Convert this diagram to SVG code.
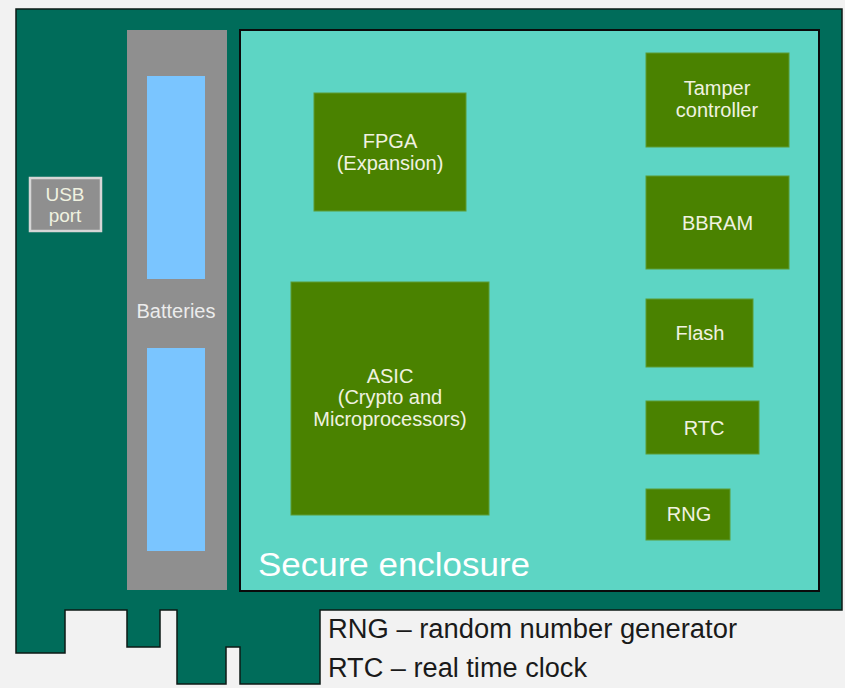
<svg xmlns="http://www.w3.org/2000/svg" width="845" height="688" viewBox="0 0 845 688">
  <style>
    .chip { fill: #4a8200; stroke: #5c9c34; stroke-width: 1; }
    .chipText { font-family: "Liberation Sans", Arial, sans-serif; font-size: 20px; fill: #f0f2e0; text-anchor: middle; }
    .gray { fill: #8f8f8f; }
    .cell { fill: #7ac5ff; }
    .legend { font-family: "Liberation Sans", Arial, sans-serif; font-size: 27px; fill: #1a1a1a; }
  </style>
  <rect x="0" y="0" width="845" height="688" fill="#f2f2f2"/>

  <g id="board">
    <path d="M16,9 H842 V610 H320 V684 H240 V647 H226 V684 H177 V610 H160 V647 H127 V610 H65 V653 H16 Z" fill="#006c5a" stroke="#0d1a16" stroke-width="1.5" stroke-linejoin="miter"/>
  </g>

  <g id="usb-port">
    <rect x="30" y="178" width="71" height="53" class="gray" stroke="#d6d6d6" stroke-width="2.5"/>
    <text class="chipText" x="65" y="201" font-size="19" style="font-size:19px" fill="#e6e6e6">USB</text>
    <text class="chipText" x="65" y="222" style="font-size:19px" fill="#e6e6e6">port</text>
  </g>

  <g id="batteries">
    <rect x="127" y="30" width="100" height="560" class="gray"/>
    <rect x="147" y="76" width="58" height="203" class="cell"/>
    <rect x="147" y="348" width="58" height="203" class="cell"/>
    <text class="chipText" x="176" y="318" fill="#ececec" style="fill:#ececec">Batteries</text>
  </g>

  <g id="secure-enclosure">
    <rect x="240" y="30" width="579" height="561" fill="#5dd5c4" stroke="#0a0a0a" stroke-width="2"/>
    <text x="258" y="576" font-family="Liberation Sans, Arial, sans-serif" font-size="34" fill="#ffffff" textLength="272" lengthAdjust="spacingAndGlyphs">Secure enclosure</text>
  </g>

  <g id="fpga">
    <rect x="314" y="93" width="152" height="118" class="chip"/>
    <text class="chipText" x="390" y="148">FPGA</text>
    <text class="chipText" x="390" y="170">(Expansion)</text>
  </g>

  <g id="asic">
    <rect x="291" y="282" width="198" height="233" class="chip"/>
    <text class="chipText" x="390" y="383">ASIC</text>
    <text class="chipText" x="390" y="404">(Crypto and</text>
    <text class="chipText" x="390" y="426">Microprocessors)</text>
  </g>

  <g id="tamper-controller">
    <rect x="646" y="53" width="143" height="94" class="chip"/>
    <text class="chipText" x="717" y="95">Tamper</text>
    <text class="chipText" x="717" y="117">controller</text>
  </g>

  <g id="bbram">
    <rect x="646" y="176" width="143" height="93" class="chip"/>
    <text class="chipText" x="717.5" y="230">BBRAM</text>
  </g>

  <g id="flash">
    <rect x="646" y="299" width="107" height="68" class="chip"/>
    <text class="chipText" x="700" y="340">Flash</text>
  </g>

  <g id="rtc">
    <rect x="646" y="401" width="113" height="53" class="chip"/>
    <text class="chipText" x="704" y="435">RTC</text>
  </g>

  <g id="rng">
    <rect x="646" y="489" width="84" height="51" class="chip"/>
    <text class="chipText" x="689" y="521">RNG</text>
  </g>

  <g id="legend">
    <text class="legend" x="328" y="638" textLength="409" lengthAdjust="spacingAndGlyphs">RNG – random number generator</text>
    <text class="legend" x="328" y="677" textLength="259" lengthAdjust="spacingAndGlyphs">RTC – real time clock</text>
  </g>
</svg>
